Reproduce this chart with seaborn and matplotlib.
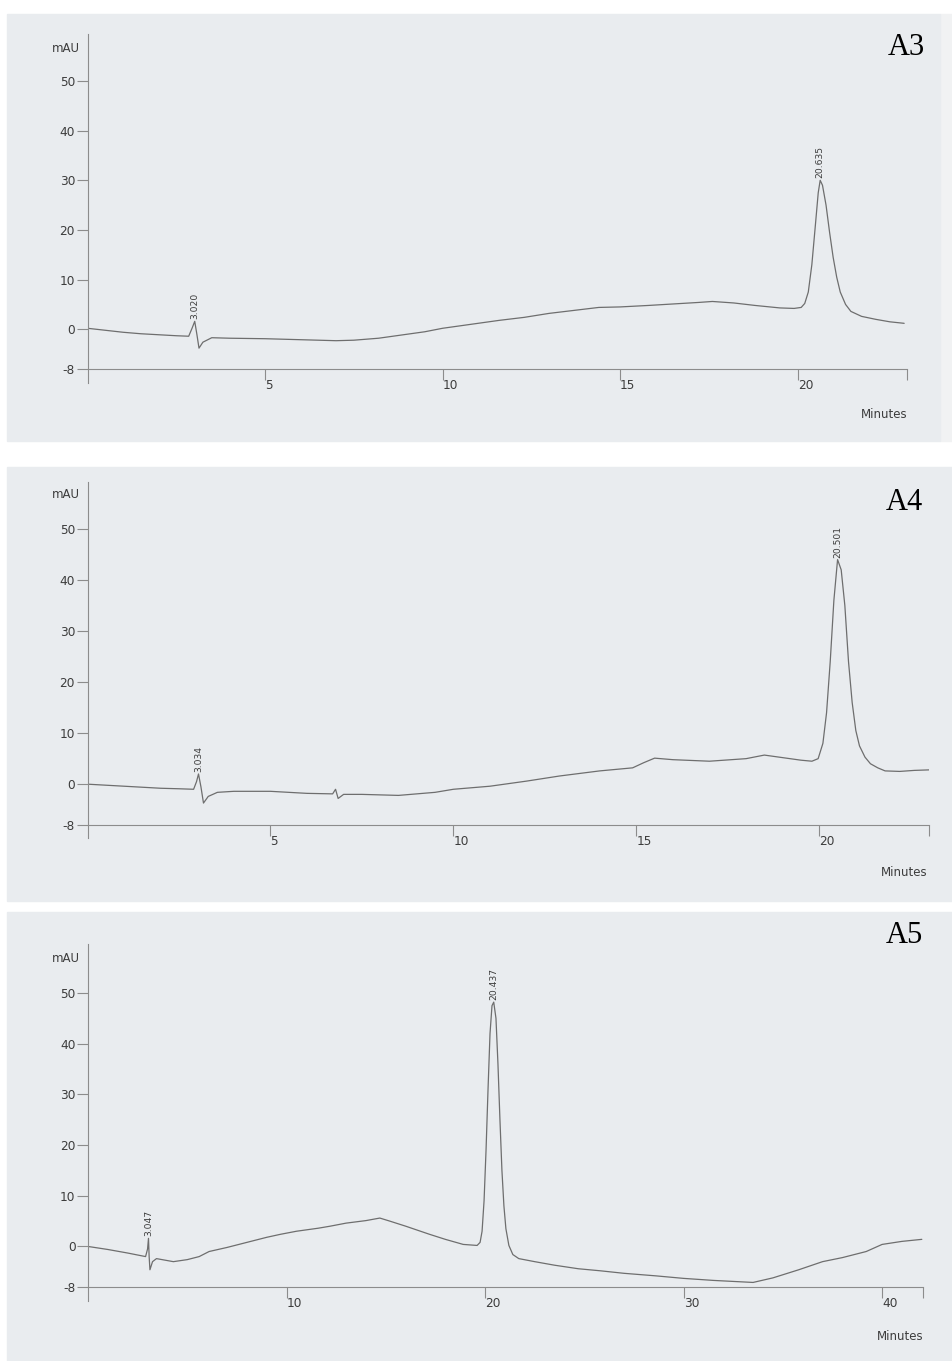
import matplotlib
matplotlib.use("Agg")
import matplotlib.pyplot as plt
import seaborn as sns
import pandas as pd
from matplotlib.patches import Rectangle

sns.set_style("ticks")
plt.rcParams['font.family'] = ['DejaVu Sans']

# ---------------- data ----------------
A3_time = [0, 0.5, 1.0, 1.5, 2.0, 2.5, 2.85, 2.95, 3.02, 3.08, 3.14, 3.25, 3.5, 4.0, 5.0,
           6.0, 7.0, 7.5, 8.2, 8.8, 9.5, 10.0, 10.8, 11.6, 12.3, 13.0, 13.7, 14.4, 15.0,
           15.8, 16.5, 17.2, 17.6, 18.2, 18.8, 19.5, 19.9, 20.1, 20.2, 20.3, 20.4, 20.5,
           20.58, 20.635, 20.7, 20.8, 20.9, 21.0, 21.1, 21.2, 21.35, 21.5, 21.8, 22.2,
           22.6, 23.0]
A3_mAU = [0.2, -0.2, -0.6, -0.9, -1.1, -1.3, -1.4, 0.3, 1.6, -1.0, -3.8, -2.6, -1.7, -1.8,
          -1.9, -2.1, -2.3, -2.2, -1.8, -1.2, -0.5, 0.2, 1.0, 1.8, 2.4, 3.2, 3.8, 4.4, 4.5,
          4.8, 5.1, 5.4, 5.6, 5.3, 4.8, 4.3, 4.2, 4.4, 5.2, 7.5, 13.0, 21.0, 27.5, 30.0,
          29.0, 25.0, 19.5, 14.5, 10.5, 7.5, 5.0, 3.6, 2.6, 2.0, 1.5, 1.2]

A4_time = [0, 0.5, 1.0, 1.5, 2.0, 2.5, 2.9, 2.98, 3.034, 3.1, 3.17, 3.3, 3.55, 4.0, 5.0,
           6.0, 6.7, 6.78, 6.85, 7.0, 7.5, 8.5, 9.5, 10.0, 11.0, 12.0, 12.9, 14.0, 14.9,
           15.2, 15.5, 16.0, 17.0, 18.0, 18.5, 19.0, 19.5, 19.8, 19.97, 20.1, 20.2, 20.3,
           20.4, 20.501, 20.6, 20.7, 20.8, 20.9, 21.0, 21.1, 21.25, 21.4, 21.6, 21.8, 22.2,
           22.6, 23.0]
A4_mAU = [0.0, -0.2, -0.4, -0.6, -0.8, -0.9, -1.0, 0.5, 2.0, -0.5, -3.7, -2.4, -1.6, -1.4,
          -1.4, -1.8, -1.9, -1.0, -2.8, -2.0, -2.0, -2.2, -1.6, -1.0, -0.4, 0.6, 1.6, 2.6,
          3.2, 4.2, 5.1, 4.8, 4.5, 5.0, 5.7, 5.2, 4.7, 4.5, 5.0, 8.0, 14.0, 24.0, 36.0,
          44.0, 42.0, 35.0, 24.0, 16.0, 10.5, 7.5, 5.3, 4.0, 3.2, 2.6, 2.5, 2.7, 2.8]

A5_time = [0, 1.0, 2.0, 2.9, 3.0, 3.047, 3.08, 3.12, 3.25, 3.45, 4.3, 5.0, 5.6, 6.1, 7.0,
           8.0, 9.0, 9.7, 10.5, 11.6, 12.2, 13.0, 14.0, 14.7, 15.2, 16.0, 17.2, 18.0, 18.9,
           19.6, 19.75, 19.85, 19.95, 20.05, 20.15, 20.25, 20.35, 20.437, 20.55, 20.65,
           20.75, 20.85, 20.95, 21.05, 21.2, 21.4, 21.7, 22.5, 23.5, 24.7, 25.8, 27.0,
           28.6, 30.0, 31.5, 33.0, 33.5, 34.5, 35.8, 37.0, 38.0, 39.2, 40.0, 41.0, 42.0]
A5_mAU = [0.0, -0.6, -1.3, -2.0, -0.5, 1.6, -2.0, -4.6, -3.0, -2.4, -3.0, -2.6, -2.0, -1.0,
          -0.2, 0.8, 1.8, 2.4, 3.0, 3.6, 4.0, 4.6, 5.1, 5.6, 5.0, 4.0, 2.4, 1.4, 0.4, 0.2,
          0.8, 3.0, 9.0, 19.0, 31.0, 42.0, 47.5, 48.2, 45.0, 36.0, 25.0, 15.0, 8.0, 3.5,
          0.2, -1.6, -2.4, -3.0, -3.7, -4.4, -4.8, -5.3, -5.8, -6.3, -6.7, -7.0, -7.1,
          -6.2, -4.6, -3.0, -2.2, -1.0, 0.4, 1.0, 1.4]

panel_names = ["A3", "A4", "A5"]
peak_labels = [[(3.020, 1.6, "3.020"), (20.635, 30.0, "20.635")],
               [(3.034, 2.0, "3.034"), (20.501, 44.0, "20.501")],
               [(3.047, 1.6, "3.047"), (20.437, 48.2, "20.437")]]
x_ticks = [[5, 10, 15, 20], [5, 10, 15, 20], [10, 20, 30, 40]]
y_ticks = [-8, 0, 10, 20, 30, 40, 50]
x_max = [23.08, 23.0, 42.06]

# ---------------- layout (pixels) ----------------
W, H = 952, 1361
BG = "#e9ecef"
LINE = "#6e6e6e"
AXC = "#8c8c8c"
TXT = "#3c3c3c"

layout = [
    # bg box, axes left/right px, y=-8 px, y=50 px, axes top px, axes bottom px, label pos, minutes pos, mAU y
    dict(bg=(7, 14, 940, 441), left=87.5, right=907, ym8=369, y50=81, top=34, bottom=383,
         lab=(925, 55), minutes=(907, 415), mau=48),
    dict(bg=(7, 467, 952, 901), left=87.5, right=929, ym8=825, y50=529, top=482, bottom=838,
         lab=(923, 510), minutes=(928, 873), mau=495),
    dict(bg=(7, 912, 952, 1361), left=88, right=923, ym8=1287, y50=993, top=944, bottom=1301,
         lab=(923, 943), minutes=(923, 1337), mau=958),
]

fig = plt.figure(figsize=(W / 100, H / 100), dpi=100)
fig.patch.set_facecolor("white")

# light strip at right of first scan
fig.add_artist(Rectangle((940 / W, 1 - 441 / H), 12 / W, (441 - 14) / H,
                         transform=fig.transFigure, color="#f1f2f3", zorder=0))

series = [(A3_time, A3_mAU), (A4_time, A4_mAU), (A5_time, A5_mAU)]

for i, (L, (t, v)) in enumerate(zip(layout, series)):
    x0, y0, x1, y1 = L["bg"]
    fig.add_artist(Rectangle((x0 / W, 1 - y1 / H), (x1 - x0) / W, (y1 - y0) / H,
                             transform=fig.transFigure, color=BG, zorder=0))
    ppu = (L["ym8"] - L["y50"]) / 58.0
    ytop = -8 + (L["ym8"] - L["top"]) / ppu
    ybot = -8 - (L["bottom"] - L["ym8"]) / ppu
    ax = fig.add_axes([L["left"] / W, 1 - L["bottom"] / H,
                       (L["right"] - L["left"]) / W, (L["bottom"] - L["top"]) / H])
    ax.set_facecolor("none")
    df = pd.DataFrame({"Minutes": t, "mAU": v})
    sns.lineplot(data=df, x="Minutes", y="mAU", ax=ax, color=LINE, linewidth=0.9,
                 estimator=None, sort=False)
    ax.set_xlim(0, x_max[i])
    ax.set_ylim(ybot, ytop)
    ax.set_xlabel("")
    ax.set_ylabel("")
    for s in ["top", "right"]:
        ax.spines[s].set_visible(False)
    ax.spines["bottom"].set_position(("data", -8))
    for s in ["left", "bottom"]:
        ax.spines[s].set_color(AXC)
        ax.spines[s].set_linewidth(0.8)
    ax.set_xticks(x_ticks[i] + [x_max[i]])
    ax.set_xticklabels([str(x) for x in x_ticks[i]] + [""])
    ax.set_yticks(y_ticks)
    ax.set_yticklabels([str(y) for y in y_ticks])
    ax.tick_params(axis="x", direction="out", length=8, width=0.8, color=AXC,
                   labelsize=8.7, labelcolor=TXT, pad=-1)
    ax.tick_params(axis="y", direction="out", length=8, width=0.8, color=AXC,
                   labelsize=8.7, labelcolor=TXT, pad=1)
    for lab in ax.get_xticklabels():
        lab.set_horizontalalignment("left")
    for (pt, pv, txt) in peak_labels[i]:
        ax.annotate(txt, xy=(pt, pv), xytext=(0, 1.5), textcoords="offset points",
                    rotation=90, ha="center", va="bottom", fontsize=6.6, color=TXT)
    fig.text(L["lab"][0] / W, 1 - L["lab"][1] / H, panel_names[i],
             family="Liberation Serif", fontsize=22, color="black",
             ha="right", va="baseline")
    fig.text(L["minutes"][0] / W, 1 - L["minutes"][1] / H, "Minutes",
             fontsize=8.5, color=TXT, ha="right", va="center")
    fig.text(80 / W, 1 - L["mau"] / H, "mAU", fontsize=8.5, color=TXT,
             ha="right", va="center")

fig.savefig("out.png", dpi=100, facecolor=fig.get_facecolor())
